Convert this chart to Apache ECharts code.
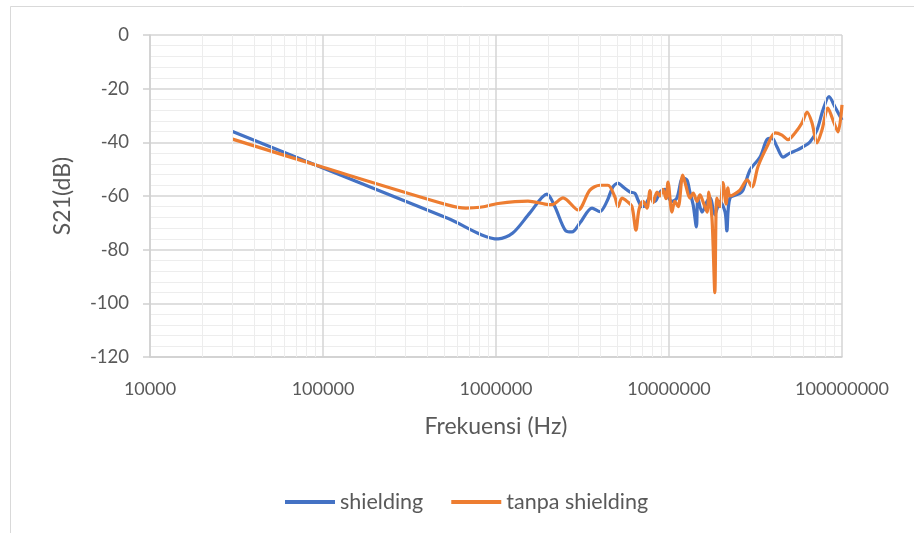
<!DOCTYPE html>
<html>
<head>
<meta charset="utf-8">
<script src="https://cdn.jsdelivr.net/npm/echarts@6/dist/echarts.min.js"></script>
<style>
  html, body { margin: 0; padding: 0; background: #fff; }
  #chart { width: 914px; height: 533px; }
</style>
</head>
<body>
<div id="chart"></div>
<script>
// frequencies (Hz) and S21 (dB)
const freqShielding = [
  30000, 100000, 530000, 1030000, 1250000, 1570000, 1970000, 2190000, 2510000,
  2750000, 3060000, 3590000, 3990000, 4380000, 4740000, 5070000, 5420000, 5950000, 6360000,
  6620000, 6980000, 7270000, 7770000, 8300000, 8870000, 9480000, 9740000, 10400000, 11100000,
  12000000, 12700000, 13200000, 13800000, 14400000, 14700000, 15500000, 15900000, 16600000, 17300000,
  18400000, 19700000, 21100000, 21600000, 22500000, 25700000, 26800000, 29400000, 33600000, 36800000,
  39400000, 42100000, 45600000, 50000000, 54900000, 59500000, 65300000, 71700000, 77600000, 84100000,
  91100000, 100000000
];
const valShielding = [
  -36, -49.6, -68.4, -76, -73.8, -66.3, -59.3, -64, -72.7,
  -73.4, -70, -64.5, -65.8, -62, -56.6, -55.2, -56.6, -58.5, -59,
  -61.5, -64, -63.5, -60.5, -62, -58.5, -57.5, -59.6, -62, -60.8,
  -53.3, -54, -58.5, -63.4, -71.5, -60.8, -66, -65, -62, -60.8,
  -67, -62, -66, -73, -60.8, -59, -57.8, -50.3, -45.5, -39,
  -38.4, -41.7, -45.5, -44, -42.9, -41.7, -39.9, -35.4, -28, -23,
  -26.8, -31.7
];

const freqTanpa = [
  30000, 100000, 530000, 671000, 809000, 1030000, 1530000, 1920000, 2110000, 2440000,
  2980000, 3490000, 3990000, 4440000, 4870000, 5070000, 5350000, 5720000, 6110000, 6440000,
  6710000, 7080000, 7460000, 7770000, 8090000, 8530000, 8870000, 9230000, 9610000, 9870000,
  10400000, 10800000, 11300000, 12000000, 12500000, 13200000, 13800000, 14500000, 15100000, 15700000,
  16600000, 17000000, 17700000, 18000000, 18400000, 18900000, 19700000, 20500000, 21400000, 21900000,
  22500000, 25700000, 28300000, 30200000, 32700000, 36800000, 41000000, 45000000, 48800000, 53500000,
  58700000, 62800000, 67100000, 71700000, 76600000, 82900000, 88700000, 94800000, 100000000
];
const valTanpa = [
  -38.8, -49.3, -63.4, -64.5, -64.2, -62.8, -61.9, -63, -63.2, -60.7,
  -65.2, -57.8, -56, -56, -60.4, -64, -60.8, -62, -64, -72.7,
  -65, -62, -64.5, -58, -62.5, -58.5, -60, -57.5, -61, -54.8,
  -66, -62, -64, -52.2, -56, -60.8, -58.9, -62, -59.6, -62,
  -66, -58.5, -68, -79, -96, -60.8, -64, -55, -63, -57,
  -60, -57.8, -54, -56.6, -49, -41.7, -36.5, -37.3, -39, -36.5,
  -32.8, -28.7, -32.8, -40.2, -35.4, -27.2, -31.7, -36.1, -26
];

const seriesNames = ["shielding", "tanpa shielding"];
const xTickLabels = ["10000", "100000", "1000000", "10000000", "100000000"];
const yTickLabels = ["-120", "-100", "-80", "-60", "-40", "-20", "0"];

const zip = (xs, ys) => xs.map((x, i) => [x, ys[i]]);

// minor vertical grid lines at 2..9 of each decade (log axis minor ticks are not 2..9)
const minorX = [];
[10000, 100000, 1000000, 10000000].forEach((d) => {
  for (let k = 2; k <= 9; k++) minorX.push({ xAxis: d * k });
});

const font = "Lato, 'Liberation Sans', sans-serif";
const chart = echarts.init(document.getElementById("chart"), null, { renderer: "canvas" });

chart.setOption({
  animation: false,
  textStyle: { fontFamily: font },
  graphic: [{
    type: "rect", left: 10, top: 6, z: -10,
    shape: { width: 930, height: 560 },
    style: { fill: "#fff", stroke: "#D9D9D9", lineWidth: 1 }
  }],
  grid: { left: 150, right: 72, top: 35, bottom: 176 },
  legend: {
    data: seriesNames,
    left: 280, top: 486,
    icon: "rect", itemWidth: 50, itemHeight: 4, itemGap: 28,
    textStyle: { fontSize: 21.5, color: "#595959", fontFamily: font }
  },
  xAxis: {
    type: "log", logBase: 10, min: 10000, max: 100000000,
    name: "Frekuensi (Hz)", nameLocation: "middle", nameGap: 58,
    nameTextStyle: { fontSize: 23, color: "#595959" },
    axisLine: { show: true, onZero: false, lineStyle: { color: "#D0D0D0", width: 1.5 } },
    axisTick: { show: false },
    axisLabel: {
      fontSize: 18, color: "#595959", margin: 23,
      formatter: (v) => {
        const s = String(Math.round(v));
        return xTickLabels.includes(s) ? s : "";
      }
    },
    splitLine: { show: true, lineStyle: { color: "#D4D4D4", width: 1.5 } }
  },
  yAxis: {
    type: "value", min: -120, max: 0, interval: 20,
    name: "S21(dB)", nameLocation: "middle", nameGap: 76, nameRotate: 90,
    nameTextStyle: { fontSize: 23, color: "#595959" },
    axisLine: { show: true, lineStyle: { color: "#D0D0D0", width: 1.5 } },
    axisTick: { show: true, inside: false, length: 7, lineStyle: { color: "#D0D0D0", width: 1.5 } },
    axisLabel: {
      fontSize: 18.5, color: "#595959", margin: 21,
      formatter: (v) => (yTickLabels.includes(String(v)) ? String(v) : "")
    },
    splitLine: { show: true, lineStyle: { color: "#D4D4D4", width: 1.5 } },
    minorTick: { show: false, splitNumber: 5 },
    minorSplitLine: { show: true, lineStyle: { color: "#EDEDED", width: 1 } }
  },
  series: [
    {
      name: "_grid", type: "line", data: [], silent: true, z: 1,
      markLine: {
        silent: true, symbol: "none", label: { show: false },
        lineStyle: { color: "#EDEDED", width: 1, type: "solid" },
        data: minorX
      }
    },
    {
      name: seriesNames[0], type: "line", data: zip(freqShielding, valShielding),
      smooth: 0.3, symbol: "none", z: 3,
      lineStyle: { color: "#4472C4", width: 3.2 }, itemStyle: { color: "#4472C4" }
    },
    {
      name: seriesNames[1], type: "line", data: zip(freqTanpa, valTanpa),
      smooth: 0.3, symbol: "none", z: 4,
      lineStyle: { color: "#ED7D31", width: 3.2 }, itemStyle: { color: "#ED7D31" }
    }
  ]
});
</script>
</body>
</html>
